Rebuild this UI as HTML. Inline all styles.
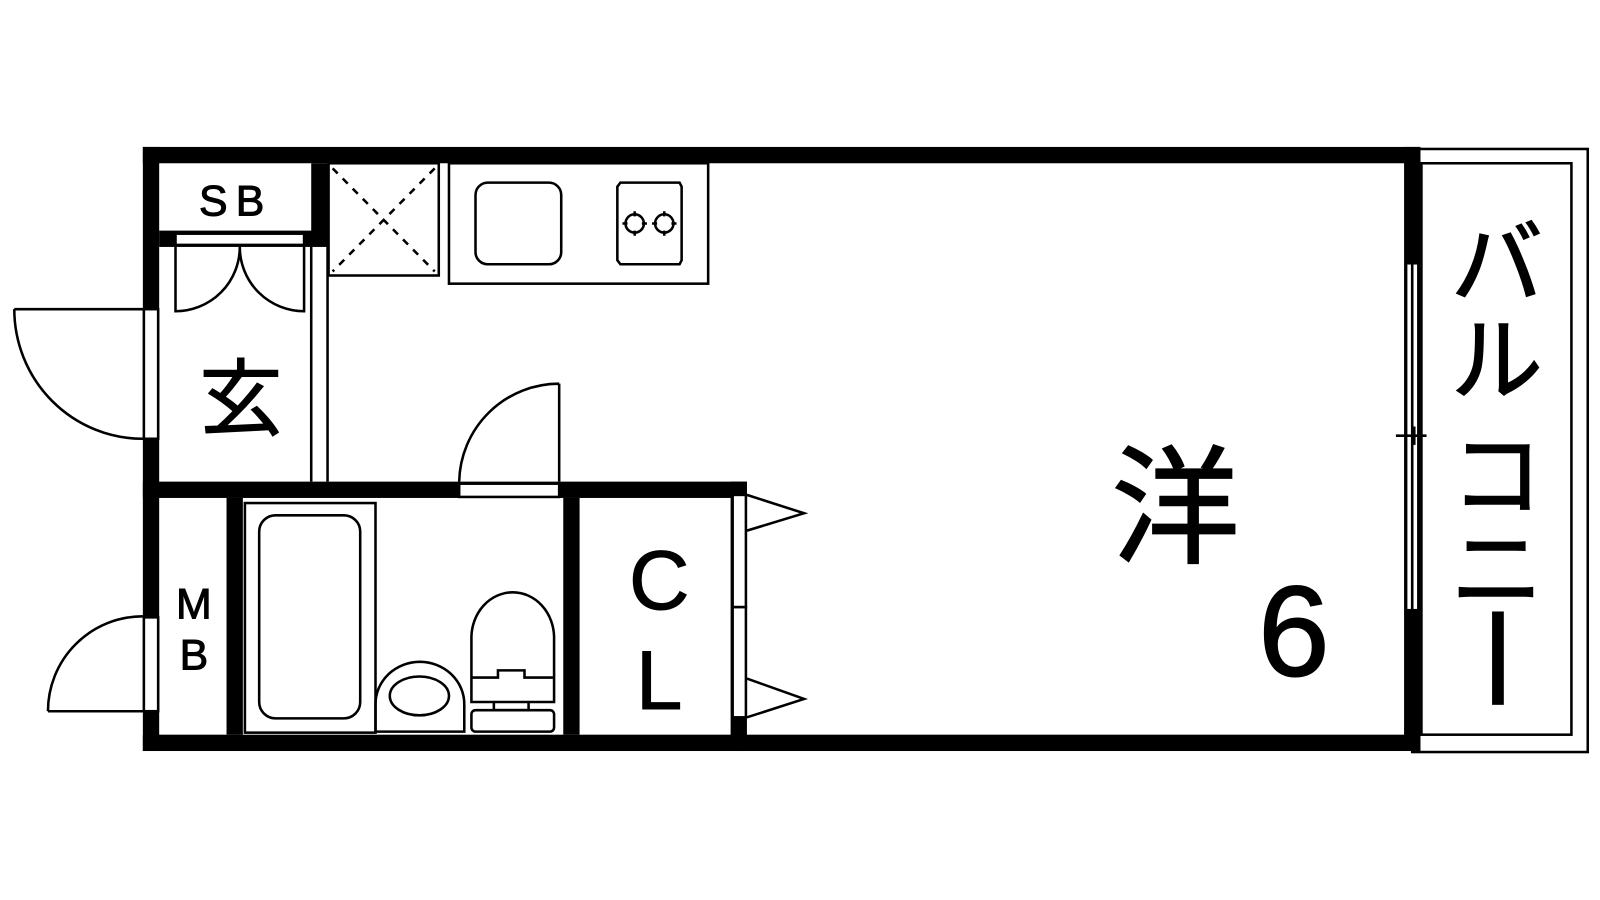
<!DOCTYPE html>
<html><head><meta charset="utf-8"><style>body{margin:0;background:#fff}svg{display:block}</style></head><body>
<svg width="1600" height="900" viewBox="0 0 1600 900" xmlns="http://www.w3.org/2000/svg" font-family="'Liberation Sans','Noto Sans CJK JP',sans-serif">
<rect width="1600" height="900" fill="#fff"/>
<g transform="scale(1.0204)">
<g fill="#000">
<rect x="140" y="144" width="1252" height="16"/>
<rect x="140" y="720" width="1252" height="16"/>
<rect x="140" y="144" width="16" height="592"/>
<rect x="1376" y="144" width="16" height="592"/>
<rect x="140" y="472" width="592" height="16"/>
<rect x="305" y="160" width="16" height="80"/>
<rect x="156" y="226" width="165" height="16"/>
<rect x="222" y="488" width="16" height="232"/>
<rect x="552" y="488" width="16" height="232"/>
<rect x="716" y="472" width="16" height="264"/>
</g>
<g fill="#fff" stroke="#000" stroke-width="2.5">
<rect x="141" y="303" width="14" height="127"/>
<rect x="141" y="605" width="14" height="92"/>
<rect x="172" y="229" width="126" height="11"/>
<rect x="450" y="474" width="98" height="13"/>
<rect x="718" y="485" width="13" height="110"/>
<rect x="718" y="595" width="13" height="108"/>
<rect x="1378" y="258" width="12" height="340"/>
</g>
<g fill="none" stroke="#000" stroke-width="2.5">
<line x1="1384" y1="258" x2="1384" y2="598"/>
<line x1="1368" y1="427" x2="1398" y2="427"/>
<line x1="1386" y1="418" x2="1386" y2="436"/>
<rect x="1384" y="146" width="172" height="591"/>
<rect x="1393" y="160" width="147" height="560"/>
<path d="M14 303 H140 M14 303 A126 127 0 0 0 140 430"/>
<path d="M47 697 H140 M47 697 A93 93 0 0 1 140 604"/>
<path d="M172 242 V305 A63 63 0 0 0 235 242 A63 63 0 0 0 298 305 V242"/>
<line x1="305" y1="240" x2="305" y2="472"/>
<line x1="321" y1="240" x2="321" y2="472"/>
<rect x="322" y="160" width="108" height="110"/>
<path d="M326 165 L426 266 M426 165 L326 266" stroke-dasharray="7 7"/>
<rect x="440" y="160" width="254" height="118"/>
<rect x="466" y="179" width="84" height="80" rx="12"/>
<path d="M608 179 H666 L668 183 V255 L666 259 H608 L605 255 V183 Z"/>
<circle cx="622" cy="219" r="9"/><circle cx="651" cy="219" r="9"/>
<path d="M610 219h5M629 219h5M622 207v5M622 226v5M639 219h5M658 219h5M651 207v5M651 226v5"/>
<path d="M548 376 V472 M548 376 A98 98 0 0 0 450 472"/>
<rect x="240" y="493" width="128" height="225"/>
<rect x="254" y="505" width="99" height="199" rx="16"/>
<path d="M368 717 V690 A42 40 0 0 1 455 690 V717 Z"/>
<ellipse cx="411" cy="682" rx="29" ry="19"/>
<path d="M462 688 V625 A40 44 0 0 1 543 625 V688 Z"/>
<path d="M462 664 H488 V657 H514 V664 H543"/>
<path d="M484 688 V696 H518 V688"/>
<rect x="462" y="696" width="81" height="21" rx="4"/>
<path d="M732 485 L788 503 L732 520 M732 665 L788 685 L732 703"/>
</g>
<g fill="#000" text-anchor="middle" stroke="#000" stroke-width="1">
<text x="231" y="211" font-size="42" letter-spacing="8">SB</text>
<text x="236" y="420" font-size="82">玄</text>
<text x="190" y="606" font-size="42">M</text>
<text x="190" y="656" font-size="42">B</text>
<text x="646" y="597" font-size="82">C</text>
<text x="646" y="695" font-size="82">L</text>
</g>
<g fill="#000" text-anchor="middle" stroke="#000" stroke-width="1.5">
<text x="1152" y="542" font-size="126">洋</text>
<text x="1268" y="662" font-size="126">6</text>
<text x="1467" y="290" font-size="90">バ</text>
<text x="1467" y="385" font-size="90">ル</text>
<text x="1467" y="498" font-size="90">コ</text>
<text x="1467" y="590" font-size="90">ニ</text>
<rect x="1463" y="600" width="10" height="90"/>
</g>
</g>
</svg>
</body></html>
